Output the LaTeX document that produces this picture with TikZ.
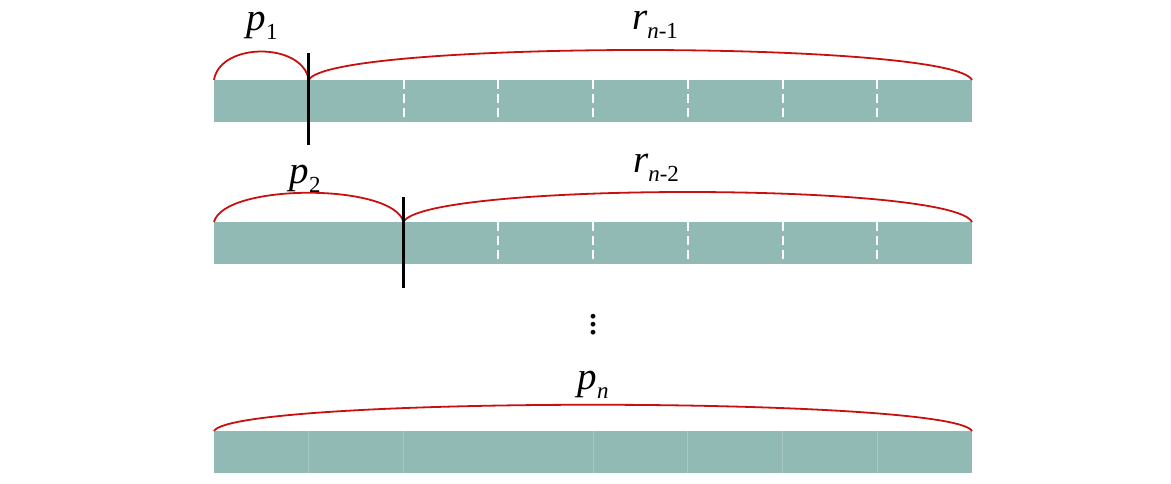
\documentclass[tikz,border=0pt]{standalone}
\usepackage{fontspec}
\setmainfont{Liberation Serif}
\usetikzlibrary{positioning}

% Beschriftung mit Index
\newcommand{\seglabel}[2]{{\fontsize{19.5}{23}\selectfont\textit{#1}\raisebox{-4.5pt}{\fontsize{11.5}{14}\selectfont #2}}}

\begin{document}
\begin{tikzpicture}[x=0.5pt,y=-0.5pt]
	% Maße (in Pixeln)
	\def\L{214}    % linker Rand
	\def\R{972}    % rechter Rand
	\def\S{94.75}  % Breite eines Stücks
	\def\T{42}     % Höhe eines Balkens

	% Farben
	\definecolor{rodteal}{RGB}{145, 186, 181}
	\definecolor{cutred}{RGB}{200, 16, 16}

	\tikzset{
		rod/.style={fill=rodteal},
		cutdash/.style={white, line width=1pt, dash pattern=on 4.5pt off 2.5pt},
		seam/.style={rodteal!80!white, line width=0.4pt},
		brace/.style={cutred, line width=0.9pt},
		cutline/.style={black, line width=1.6pt},
		lbl/.style={anchor=base, inner sep=0pt}
	}

	\useasboundingbox (0,0) rectangle (1171,483);

	% Balken 1 (Schnitt nach p_1)
	\fill[rod] (\L,80) rectangle (\R,80+\T);
	\foreach \k in {2,...,7}
		\draw[cutdash] (\L+\k*\S,80) -- (\L+\k*\S,80+\T);
	\coordinate (a0) at (\L,80);
	\coordinate (a1) at (\L+\S,80);
	\coordinate (a2) at (\R,80);
	\draw[brace] (a0) .. controls (\L+6,42) and (\L+\S-6,42) .. (a1);
	\draw[brace] (a1) .. controls (\L+\S+20,40) and (\R-20,40) .. (a2);
	\draw[cutline] (\L+\S,53) -- (\L+\S,145);
	\node[lbl] (p1) at (262,30) {\seglabel{p}{1}};
	\node[lbl] (r1) at (655,29) {\seglabel{r}{\textit{n}-1}};

	% Balken 2 (Schnitt nach p_2)
	\fill[rod] (\L,222) rectangle (\R,222+\T);
	\foreach \k in {3,...,7}
		\draw[cutdash] (\L+\k*\S,222) -- (\L+\k*\S,222+\T);
	\coordinate (b0) at (\L,222);
	\coordinate (b1) at (\L+2*\S,222);
	\coordinate (b2) at (\R,222);
	\draw[brace] (b0) .. controls (\L+10,183) and (\L+2*\S-10,183) .. (b1);
	\draw[brace] (b1) .. controls (\L+2*\S+20,182) and (\R-20,182) .. (b2);
	\draw[cutline] (\L+2*\S,197) -- (\L+2*\S,288);
	\node[lbl] (p2) at (305,183) {\seglabel{p}{2}};
	\node[lbl] (r2) at (656,172) {\seglabel{r}{\textit{n}-2}};

	% Punkte
	\node[inner sep=0pt] (dots) at (593,319) {\fontsize{20}{20}\selectfont$\vdots$};

	% Balken n (ohne Schnitt)
	\fill[rod] (\L,431) rectangle (\R,431+\T);
	\foreach \k in {1,2,4,5,6,7}
		\draw[seam] (\L+\k*\S,431) -- (\L+\k*\S,431+\T);
	\coordinate (c0) at (\L,431);
	\coordinate (c1) at (\R,431);
	\draw[brace] (c0) .. controls (\L+20,396) and (\R-20,396) .. (c1);
	\node[lbl] (pn) at (593,389) {\seglabel{p}{\textit{n}}};
\end{tikzpicture}
\end{document}
